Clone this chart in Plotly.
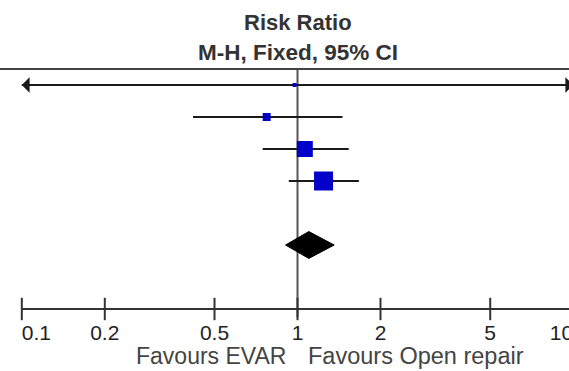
import math
import plotly.graph_objects as go

# ---- data ----
row_pos = [0, 1, 2, 3]             # study rows (top to bottom)
est = [0.976, 0.773, 1.063, 1.243]  # risk ratio point estimates
ci_lo = [0.06, 0.418, 0.748, 0.930]
ci_hi = [15.0, 1.456, 1.534, 1.670]
square_sizes = [4, 8, 16, 19]       # marker sizes (study weights)

pooled_row = 5
pooled_est = 1.099
pooled_lo = 0.905
pooled_hi = 1.359

tick_vals = [0.1, 0.2, 0.5, 1, 2, 5, 10]
tick_text = ["0.1", "0.2", "0.5", "1", "2", "5", "10"]
axis_row = 7
header_row = -0.5

x_min, x_max = tick_vals[0], tick_vals[-1]

FONT = "Liberation Sans, Arial, sans-serif"
W, H = 569, 371
FIG_W = 576   # slightly wider than the window: the reference cuts the "10" end off

fig = go.Figure()

# vertical line of no effect
fig.add_trace(go.Scatter(x=[1, 1], y=[header_row, axis_row + 0.25], mode="lines",
                         line=dict(color="#555555", width=2), hoverinfo="skip"))

# confidence interval lines (clipped to the axis, arrows when beyond)
for r, lo, hi in zip(row_pos, ci_lo, ci_hi):
    lo_c = max(lo, x_min)
    hi_c = min(hi, x_max)
    fig.add_trace(go.Scatter(x=[lo_c, hi_c], y=[r, r], mode="lines",
                             line=dict(color="#1a1a1a", width=2), hoverinfo="skip",
                             cliponaxis=False))
    if lo < x_min:
        fig.add_annotation(xref="x", yref="y", x=math.log10(x_min), y=r, ax=12, ay=0,
                           showarrow=True, arrowhead=1, arrowsize=1.3, arrowwidth=2,
                           arrowcolor="#1a1a1a", text="")
    if hi > x_max:
        fig.add_annotation(xref="x", yref="y", x=math.log10(x_max), y=r, ax=-12, ay=0,
                           showarrow=True, arrowhead=1, arrowsize=1.3, arrowwidth=2,
                           arrowcolor="#1a1a1a", text="")

# study squares
fig.add_trace(go.Scatter(x=est, y=row_pos, mode="markers",
                         marker=dict(symbol="square", size=square_sizes, color="#0000C8",
                                     opacity=1, line=dict(width=0)),
                         hoverinfo="skip"))

# pooled diamond
dh = 0.42
fig.add_trace(go.Scatter(x=[pooled_lo, pooled_est, pooled_hi, pooled_est, pooled_lo],
                         y=[pooled_row, pooled_row - dh, pooled_row, pooled_row + dh, pooled_row],
                         mode="lines", fill="toself", fillcolor="#000000",
                         line=dict(color="#000000", width=1), hoverinfo="skip"))

# bottom axis line
fig.add_trace(go.Scatter(x=[x_min, x_max], y=[axis_row, axis_row], mode="lines",
                         line=dict(color="#333333", width=2), hoverinfo="skip", cliponaxis=False))
# tick marks crossing the axis
fig.add_trace(go.Scatter(x=tick_vals, y=[axis_row] * len(tick_vals), mode="markers",
                         marker=dict(symbol="line-ns-open", size=16, color="#333333", opacity=1,
                                     line=dict(color="#333333", width=2)),
                         hoverinfo="skip", cliponaxis=False))
# tick labels
positions = ["bottom right"] + ["bottom center"] * (len(tick_vals) - 2) + ["bottom left"]
fig.add_trace(go.Scatter(x=tick_vals, y=[axis_row + 0.48] * len(tick_vals), mode="text",
                         text=tick_text, textposition=positions,
                         textfont=dict(family=FONT, size=21, color="#222222"),
                         hoverinfo="skip", cliponaxis=False))

# header separator line
fig.add_shape(type="line", xref="paper", yref="y", x0=0, x1=1, y0=header_row, y1=header_row,
              line=dict(color="#444444", width=2))

# header text
fig.add_annotation(xref="x", yref="paper", x=math.log10(1), y=1 - 22 / H,
                   text="<b>Risk Ratio</b>", showarrow=False, xanchor="center", yanchor="middle",
                   font=dict(family=FONT, size=22, color="#333333"))
fig.add_annotation(xref="x", yref="paper", x=math.log10(1), y=1 - 53 / H,
                   text="<b>M-H, Fixed, 95% CI</b>", showarrow=False, xanchor="center",
                   yanchor="middle", font=dict(family=FONT, size=22.5, color="#333333"))

# favours labels
fig.add_annotation(xref="x", yref="paper", x=math.log10(1), y=1 - 356 / H,
                   text="Favours EVAR", showarrow=False, xanchor="right", yanchor="middle",
                   xshift=-10, font=dict(family=FONT, size=23, color="#444444"))
fig.add_annotation(xref="x", yref="paper", x=math.log10(1), y=1 - 356 / H,
                   text="Favours Open repair", showarrow=False, xanchor="left", yanchor="middle",
                   xshift=8, font=dict(family=FONT, size=23.5, color="#444444"))

px1 = 297.5
per_decade = 275.7
fig.update_layout(
    width=FIG_W, height=H,
    margin=dict(l=0, r=0, t=0, b=0),
    paper_bgcolor="white", plot_bgcolor="white",
    showlegend=False,
    xaxis=dict(type="log", range=[-px1 / per_decade, (FIG_W - px1) / per_decade],
               visible=False, fixedrange=True),
    yaxis=dict(range=[(H - 85) / 32, -85 / 32], visible=False, fixedrange=True),
)

fig.write_html("out.html", config={"displayModeBar": False},
               post_script="document.body.style.margin='0px';"
                           "document.body.style.overflow='hidden';"
                           "document.documentElement.style.overflow='hidden';")
